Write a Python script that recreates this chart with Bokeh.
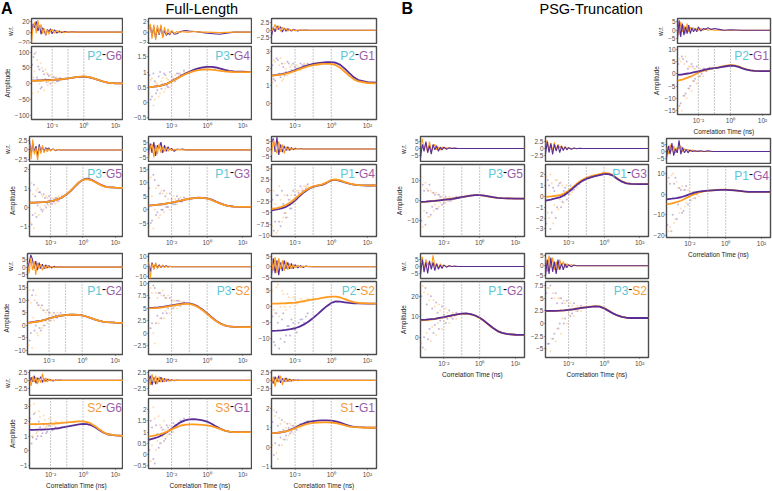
from bokeh.plotting import figure
from bokeh.layouts import column, row
from bokeh.models import (FixedTicker, CustomJSTickFormatter, Span, Label, Range1d, Spacer)
from bokeh.embed import file_html
from bokeh.resources import INLINE

FONT = "Liberation Sans"
PURPLE = "#5a2d96"
ORANGE = "#ff9b1e"
CYAN_T = "#5cc8d6"
PURP_T = "#9c5ca8"
ORNG_T = "#f29a3a"

# correlation times (ms)
CURVE_T = [0.0005, 0.001, 0.00178, 0.00316, 0.00562, 0.01, 0.0178, 0.0316, 0.0562, 0.1, 0.178,
           0.316, 0.562, 1.0, 1.78, 3.16, 5.62, 10.0, 17.8, 31.6, 100.0, 316.0]
RES_T = [0.0005, 0.00063, 0.00079, 0.001, 0.00126, 0.00158, 0.002, 0.00251, 0.00316, 0.00398,
         0.00501, 0.00631, 0.00794, 0.01, 0.0141, 0.02, 0.0282, 0.0398, 0.0631, 0.1, 0.2, 0.398,
         1.0, 5.0, 31.6, 316.0]
SCAT_T = [0.00056, 0.00079, 0.00112, 0.00158, 0.00224, 0.00316, 0.00447, 0.00631, 0.01, 0.0158,
          0.0251, 0.0398]
SCAT_T2 = [0.00067, 0.00094, 0.00133, 0.00188, 0.00266, 0.00376, 0.00531, 0.00794, 0.0126, 0.02,
           0.0316, 0.0501]
X_TICKS = [0.01, 1, 100]
V_LINES = [0.01, 0.1, 1]

# ---------------- Full-Length ----------------
A1_FIT_P = [10, 10.5, 11, 11.5, 12, 12.5, 13, 14, 15.5, 17, 19, 21, 22, 22.5, 21.5, 19, 15, 10.5, 6.5, 3.5, 1.5, 1]
A1_FIT_O = [9, 9.5, 10, 10.5, 11, 12, 13, 14, 15.5, 17, 19, 21, 22.5, 23, 22, 19.5, 15, 10.5, 6.5, 3.5, 1.5, 1]
A1_RES_P = [-5, 15, 8, 20, 2, 12, -4, 8, 3, -6, 5, 0, 6, -3, 4, -2, 2, -1, 1, 0, 0.5, 0, 0, 0, 0, 0]
A1_RES_O = [-20, 10, 18, -2, 22, 6, 14, -3, 7, -5, 4, -4, 3, 5, -2, 3, -1, 1, -1, 0.5, 0, 0, 0, 0, 0, 0]
A1_PTS_P = [60, 95, 20, 45, -10, 30, 5, 25, 10, 18, 8, 14]
A1_PTS_O = [-30, 40, 75, 0, 50, -20, 35, 5, 20, 2, 16, 12]
A1_PTS2_P = [85, 10, 55, -15, 40, 15, 30, 0, 22, 8, 18, 15]
A1_PTS2_O = [20, 100, -25, 65, 10, 45, -5, 28, 5, 20, 12, 16]

A2_FIT_P = [0.50, 0.52, 0.54, 0.57, 0.62, 0.70, 0.78, 0.86, 0.94, 1.01, 1.07, 1.12, 1.15, 1.17, 1.17, 1.15, 1.11, 1.07, 1.04, 1.02, 1.01, 1.0]
A2_FIT_O = [0.50, 0.52, 0.54, 0.57, 0.62, 0.69, 0.77, 0.85, 0.92, 0.98, 1.03, 1.06, 1.08, 1.09, 1.08, 1.06, 1.04, 1.02, 1.01, 1.0, 1.0, 1.0]
A2_RES_P = [0.5, 1.2, -0.8, 1.0, -1.2, 0.8, -0.5, 1.1, -0.9, 0.3, -0.6, -0.2, -0.5, 0.2, -0.4, -0.3, 0, 0.2, 0.3, 0.2, 0.1, 0.0, -0.2, -0.4, 0.0, 0.0]
A2_RES_O = [0.2, 1.5, -1.2, 1.4, -1.5, 1.3, -0.4, 1.4, -1.1, 0.9, -0.5, 0.6, -0.4, 0.3, -0.2, 0.1, -0.1, 0.1, 0.0, 0.0, 0.1, 0.0, 0.0, -0.1, 0.0, 0.0]
A2_PTS_P = [0.9, 0.2, 0.7, 0.4, 1.0, 0.6, 0.9, 0.5, 0.85, 0.7, 0.95, 0.9]
A2_PTS_O = [0.3, 0.8, 0.1, 0.6, 0.3, 0.8, 0.45, 0.75, 0.6, 0.9, 0.8, 0.88]
A2_PTS2_P = [0.1, 0.95, 0.3, 0.85, 0.45, 0.95, 0.55, 1.0, 0.75, 0.95, 0.9, 1.05]
A2_PTS2_O = [0.75, -0.1, 0.65, 0.2, 0.7, 0.35, 0.8, 0.5, 0.8, 0.75, 0.95, 1.0]

A3_FIT_P = [1.60, 1.64, 1.68, 1.74, 1.82, 1.92, 2.02, 2.12, 2.2, 2.27, 2.32, 2.35, 2.37, 2.38, 2.34, 2.22, 2.0, 1.74, 1.5, 1.34, 1.22, 1.19]
A3_FIT_O = [1.60, 1.63, 1.66, 1.71, 1.78, 1.87, 1.97, 2.06, 2.14, 2.2, 2.24, 2.27, 2.28, 2.27, 2.2, 2.05, 1.82, 1.58, 1.38, 1.26, 1.17, 1.15]
A3_RES_P = [-2.0, 1.0, -0.5, 1.5, 0.3, 1.2, -0.6, 0.8, -0.3, 0.5, 0.2, -0.3, 0.3, 0.1, -0.2, 0.1, 0, 0.1, 0, 0, 0, 0, 0, 0, 0, 0]
A3_RES_O = [-0.5, 0.8, 2.0, 0.2, 1.5, -0.4, 1.0, 0.3, 0.6, -0.3, 0.4, 0, 0.2, -0.2, 0.1, 0, 0.1, 0, 0, 0, 0, 0, 0, 0, 0, 0]
A3_PTS_P = [2.2, 1.3, 2.5, 1.5, 2.1, 1.8, 2.3, 1.9, 2.1, 2.0, 2.2, 2.15]
A3_PTS_O = [1.2, 2.4, 1.6, 2.6, 1.4, 2.0, 1.7, 2.2, 1.85, 2.1, 2.05, 2.2]
A3_PTS2_P = [1.4, 2.6, 1.7, 2.3, 1.6, 2.4, 1.8, 2.3, 2.0, 2.3, 2.2, 2.3]
A3_PTS2_O = [2.5, 1.0, 2.2, 1.3, 2.3, 1.6, 2.1, 1.8, 2.2, 1.9, 2.3, 2.25]

A4_FIT_P = [0.25, 0.26, 0.27, 0.28, 0.3, 0.33, 0.38, 0.45, 0.55, 0.7, 0.88, 1.1, 1.32, 1.47, 1.52, 1.47, 1.36, 1.24, 1.14, 1.08, 1.05, 1.03]
A4_FIT_O = [0.25, 0.26, 0.27, 0.28, 0.3, 0.33, 0.38, 0.46, 0.56, 0.71, 0.9, 1.12, 1.33, 1.46, 1.5, 1.45, 1.34, 1.22, 1.13, 1.08, 1.05, 1.03]
A4_RES_P = [2.5, -1.5, 1.8, -0.5, 1.0, -1.8, 1.5, -0.6, 0.8, -0.4, 0.6, 0.2, 0.5, -0.2, 0.3, -0.2, 0.1, 0, 0, 0, 0, 0, 0, 0, 0, 0]
A4_RES_O = [1.5, -2.5, 2.8, -1.2, 0.5, -2.8, 0.9, -1.0, 1.2, -0.8, 0.4, -0.5, 0.3, -0.3, 0.2, -0.1, 0.1, 0, 0, 0, 0, 0, 0, 0, 0, 0]
A4_PTS_P = [0.9, -0.4, 0.6, 0.1, 0.8, -0.2, 0.5, 0.2, 0.4, 0.3, 0.5, 0.5]
A4_PTS_O = [-0.8, 0.7, -0.3, 1.0, 0.0, 0.6, 0.1, 0.5, 0.2, 0.45, 0.3, 0.5]
A4_PTS2_P = [-0.9, 1.2, -0.5, 0.8, -0.1, 0.7, 0.0, 0.6, 0.2, 0.5, 0.35, 0.6]
A4_PTS2_O = [1.3, -1.1, 0.9, -0.4, 0.7, -0.1, 0.6, 0.1, 0.5, 0.2, 0.6, 0.55]

A5_FIT_P = [1.5, 1.7, 1.85, 2.0, 2.3, 2.6, 2.95, 3.3, 3.7, 4.0, 4.3, 4.45, 4.4, 4.2, 3.7, 3.0, 2.3, 1.7, 1.35, 1.15, 1.02, 1.0]
A5_FIT_O = [1.5, 1.7, 1.85, 2.05, 2.35, 2.65, 3.0, 3.35, 3.75, 4.05, 4.3, 4.4, 4.35, 4.1, 3.6, 2.9, 2.2, 1.65, 1.3, 1.12, 1.02, 1.0]
A5_RES_P = [-3, 4, -2, 5, -4, 3, 1, 5, -2, 3, -1, 2, 0, 1, -1, 0.5, 0, 0.5, 0, 0, 0, 0, 0, 0, 0, 0]
A5_RES_O = [-6, 2, 4, -5, 3, -3, 4, -2, 2, -1, 1.5, -1, 1, -0.5, 0.3, 0, 0.3, 0, 0, 0, 0, 0, 0, 0, 0, 0]
A5_PTS_P = [8, -4, 11, -1, 6, 0, 5, 1, 4, 2, 4, 3]
A5_PTS_O = [-6, 5, 0, 9, -2, 6, 1, 4, 3, 4, 3.5, 3.5]
A5_PTS2_P = [-5, 13, -2, 9, 0, 7, 1, 6, 2, 5, 3, 4.5]
A5_PTS2_O = [12, -7, 8, -3, 7, -1, 6, 0, 5, 2, 4.5, 3.5]

A6_FIT_P = [-4.4, -4.2, -3.95, -3.6, -3.0, -2.2, -1.2, -0.3, 0.4, 0.9, 1.15, 1.35, 1.8, 2.35, 2.45, 2.25, 1.9, 1.6, 1.4, 1.28, 1.2, 1.2]
A6_FIT_O = [-4.1, -3.9, -3.6, -3.2, -2.6, -1.8, -0.9, -0.1, 0.55, 1.0, 1.25, 1.45, 1.9, 2.45, 2.55, 2.35, 1.95, 1.65, 1.42, 1.3, 1.22, 1.2]
A6_RES_P = [4, 7, -2, 8, -4, 3, -2, 2, -1, 1.5, -1, 1, -0.5, 0.5, 0, 0.3, 0, 0, 0, 0, 0, 0, 0, 0, 0, 0]
A6_RES_O = [-4, 6, 2, -3, 5, -2, 3, -3, 1.5, -1, 1, -0.5, 0.5, -0.3, 0.3, 0, 0, 0, 0, 0, 0, 0, 0, 0, 0, 0]
A6_PTS_P = [-2, -7, -1, -8, -3, -6, -2, -4, -1, -0.5, 0, 0.5]
A6_PTS_O = [-8, -3, -9, -2, -6, -5, -3, -1, -2, 0, 0.5, 1]
A6_PTS2_P = [-9, -1, -7, 0, -5, -1, -4, 0, -1.5, 1, 0, 1.5]
A6_PTS2_O = [0, -9.5, 1, -7, -1, -6, -2, -3, 0, -1, 1, 1]

A7_FIT_P = [1.0, 1.3, 1.55, 1.8, 2.25, 2.8, 3.25, 3.6, 3.9, 4.1, 4.25, 4.3, 4.2, 4.0, 3.55, 3.0, 2.4, 1.9, 1.5, 1.3, 1.1, 1.0]
A7_FIT_O = [0.9, 1.2, 1.45, 1.75, 2.2, 2.75, 3.2, 3.6, 3.9, 4.1, 4.25, 4.3, 4.2, 4.0, 3.55, 3.0, 2.4, 1.9, 1.5, 1.3, 1.1, 1.0]
A7_RES_P = [-2, 3, 8, 5, -1, 4, -2, 3, -1, 2, -1, 1.5, -0.5, 1, -0.5, 0.5, 0, 0.3, 0, 0, 0, 0, 0, 0, 0, 0]
A7_RES_O = [2, -4, 6, -2, 4, -5, 3, -1, 2, -2, 1, -1, 1, -0.5, 0.5, -0.3, 0.3, 0, 0, 0, 0, 0, 0, 0, 0, 0]
A7_PTS_P = [10, -3, 14, 0, 8, -2, 6, 2, 5, 3, 4, 4]
A7_PTS_O = [-8, 9, 3, 12, -4, 7, 0, 5, 2, 4, 3.5, 4]
A7_PTS2_P = [-6, 12, -2, 9, -1, 8, 0, 6, 2, 5, 3, 5]
A7_PTS2_O = [14, -9, 10, -3, 8, -1, 6, 1, 5, 2, 5, 4]

A8_FIT_P = [5.05, 5.1, 5.15, 5.25, 5.4, 5.55, 5.7, 5.85, 5.95, 5.95, 5.7, 5.3, 4.7, 4.0, 3.2, 2.5, 1.95, 1.6, 1.4, 1.3, 1.25, 1.25]
A8_FIT_O = [4.95, 5.0, 5.05, 5.15, 5.3, 5.45, 5.6, 5.75, 5.85, 5.85, 5.6, 5.2, 4.6, 3.9, 3.1, 2.45, 1.9, 1.58, 1.4, 1.3, 1.25, 1.25]
A8_RES_P = [3, -5, 4, -2, 3, -1, 2, -1, 1, 0, 1, 0, 0.5, 0, 0, 0, 0, 0, 0, 0, 0, 0, 0, 0, 0, 0]
A8_RES_O = [5, -12, 3, -3, 4, -2, 1, -1, 2, -1, 0.5, -0.5, 0.3, 0, 0, 0, 0, 0, 0, 0, 0, 0, 0, 0, 0, 0]
A8_PTS_P = [7, 2, 9, 3.5, 8, 4, 7, 5, 6.5, 5.5, 6.5, 6]
A8_PTS_O = [1, 8, -2, 7, 3, 8.5, 4.5, 7.5, 5, 6.5, 5.5, 6]
A8_PTS2_P = [1, 9.5, 2, 8, 3, 7.5, 4, 7, 5, 6.5, 5.5, 6.2]
A8_PTS2_O = [9, 0, 8, 2, 7.5, 3, 7, 4, 6.5, 5, 6.3, 5.8]

A9_FIT_P = [-7.5, -7.45, -7.35, -7.2, -7.0, -6.7, -6.2, -5.5, -4.6, -3.5, -2.3, -1.0, 0.2, 1.2, 1.7, 1.6, 1.4, 1.2, 1.1, 1.05, 1.0, 1.0]
A9_FIT_O = [1.0, 1.0, 1.05, 1.1, 1.2, 1.3, 1.5, 1.8, 2.1, 2.3, 2.5, 2.8, 3.05, 3.2, 3.15, 2.9, 2.4, 1.85, 1.45, 1.2, 1.05, 1.0]
A9_RES_P = [-4, 4, -3, 3, -4, 2, -2, 3, -1, 2, -1, 1.5, -1, 1, -0.5, 0.5, -0.3, 0.3, 0, 0, 0, 0, 0, 0, 0, 0]
A9_RES_O = [3, -2, 4.5, -3, 4, -1, 3, -2, 2.5, -1.5, 1.5, -1, 1, -0.5, 0.7, -0.3, 0.3, 0, 0.2, 0, 0, 0, 0, 0, 0, 0]
A9_PTS_P = [-3, -12, -5, -10, -2, -9, -6, -4, -7, -5, -4, -3]
A9_PTS_O = [5, -2, 7, 0, 4, -1, 3, 1, 2.5, 1.5, 2, 2]
A9_PTS2_P = [-11, -2, -13, -4, -11, -6, -9, -5, -8, -4, -5, -2]
A9_PTS2_O = [-1, 6, -3, 5, 0, 4, 0, 3, 1, 2.5, 1.5, 2.5]

A10_FIT_P = [1.42, 1.43, 1.44, 1.45, 1.46, 1.48, 1.51, 1.55, 1.6, 1.65, 1.7, 1.75, 1.8, 1.83, 1.82, 1.75, 1.6, 1.42, 1.25, 1.13, 1.05, 1.02]
A10_FIT_O = [1.82, 1.82, 1.82, 1.83, 1.84, 1.85, 1.86, 1.88, 1.9, 1.93, 1.96, 1.98, 2.0, 2.0, 1.96, 1.85, 1.68, 1.47, 1.28, 1.14, 1.05, 1.02]
A10_RES_P = [-1.5, 1.0, -0.5, 1.5, -1.0, 0.8, 0.3, 1.2, -0.6, 0.5, -0.3, 0.4, 0, 0.2, -0.2, 0.1, 0, 0.1, 0, 0, 0, 0, 0, 0, 0, 0]
A10_RES_O = [0.5, -1.8, 1.2, -0.5, 1.0, -1.2, 0.6, -0.8, 2.2, -0.5, 0.8, -0.5, 0.5, -0.2, 0.2, -0.1, 0.1, 0, 0, 0, 0, 0, 0, 0, 0, 0]
A10_PTS_P = [2.2, 0.9, 1.8, 1.0, 1.6, 1.2, 1.5, 1.3, 1.5, 1.45, 1.5, 1.55]
A10_PTS_O = [3.1, 1.0, 2.6, 1.3, 2.3, 1.5, 2.1, 1.7, 1.95, 1.8, 1.9, 1.9]
A10_PTS2_P = [0.5, 2.5, 0.8, 2.0, 1.0, 1.8, 1.2, 1.7, 1.4, 1.6, 1.5, 1.6]
A10_PTS2_O = [1.0, 3.2, 1.2, 2.7, 1.4, 2.4, 1.6, 2.2, 1.7, 2.0, 1.85, 2.0]

A11_FIT_P = [0.65, 0.72, 0.78, 0.88, 1.0, 1.15, 1.3, 1.43, 1.52, 1.56, 1.57, 1.55, 1.52, 1.46, 1.37, 1.25, 1.14, 1.06, 1.02, 1.0, 1.0, 1.0]
A11_FIT_O = [0.8, 0.84, 0.88, 0.94, 1.02, 1.12, 1.21, 1.28, 1.32, 1.34, 1.34, 1.33, 1.32, 1.3, 1.26, 1.2, 1.13, 1.06, 1.02, 1.0, 1.0, 1.0]
A11_RES_P = [-0.5, 1.5, -1.5, 1.0, -1.2, 0.8, -0.5, 1.0, -0.5, 0.6, -0.3, 0.4, -0.2, 0.2, -0.1, 0.1, 0, 0, 0, 0, 0, 0, 0, 0, 0, 0]
A11_RES_O = [1.0, -1.5, 2.0, -0.8, 1.5, -1.2, 1.2, -0.6, 0.8, -0.5, 0.5, -0.3, 0.2, -0.1, 0.1, 0, 0, 0, 0, 0, 0, 0, 0, 0, 0, 0]
A11_PTS_P = [0.2, 1.2, -0.4, 0.9, 0.5, 1.1, 0.7, 1.2, 1.0, 1.3, 1.4, 1.5]
A11_PTS_O = [1.9, 0.4, 1.6, 0.6, 1.3, 0.8, 1.1, 0.9, 1.1, 1.2, 1.25, 1.3]
A11_PTS2_P = [1.5, -0.2, 1.3, 0.3, 1.2, 0.6, 1.3, 0.9, 1.4, 1.2, 1.5, 1.6]
A11_PTS2_O = [-0.3, 2.1, 0.2, 1.7, 0.5, 1.5, 0.8, 1.3, 1.0, 1.3, 1.3, 1.35]

A12_FIT_P = [0.72, 0.74, 0.77, 0.82, 0.9, 1.0, 1.12, 1.22, 1.3, 1.34, 1.37, 1.38, 1.38, 1.37, 1.33, 1.26, 1.18, 1.1, 1.05, 1.03, 1.01, 1.0]
A12_FIT_O = [0.72, 0.74, 0.77, 0.81, 0.88, 0.97, 1.07, 1.15, 1.21, 1.25, 1.27, 1.28, 1.28, 1.27, 1.24, 1.18, 1.12, 1.06, 1.03, 1.02, 1.0, 1.0]
A12_RES_P = [0.5, -1.0, 1.2, -0.5, 1.5, -0.8, 0.6, -0.4, 0.8, -0.3, 0.4, -0.2, 0.2, 0, 0.1, 0, 0, 0, 0, 0, 0, 0, 0, 0, 0, 0]
A12_RES_O = [-1.0, 1.2, -2.0, 1.0, -0.6, 1.5, -1.5, 0.8, -0.5, 0.6, -0.4, 0.3, -0.2, 0.1, -0.1, 0, 0, 0, 0, 0, 0, 0, 0, 0, 0, 0]
A12_PTS_P = [1.3, 0.2, 1.1, 0.5, 0.9, 0.6, 1.0, 0.8, 1.0, 1.1, 1.2, 1.3]
A12_PTS_O = [0.1, 1.6, -0.6, 1.2, 0.4, 1.0, 0.6, 1.1, 0.9, 1.1, 1.15, 1.2]
A12_PTS2_P = [-0.4, 1.8, 0.1, 1.4, 0.4, 1.2, 0.7, 1.1, 0.9, 1.2, 1.25, 1.35]
A12_PTS2_O = [1.9, -0.3, 1.5, 0.1, 1.3, 0.4, 1.2, 0.7, 1.1, 1.0, 1.2, 1.3]

# ---------------- PSG-Truncation ----------------
B1_FIT_P = [-0.5, -0.4, -0.2, 0.0, 0.25, 0.5, 0.75, 1.0, 1.4, 1.8, 2.2, 2.6, 2.8, 2.8, 2.6, 2.2, 1.8, 1.5, 1.3, 1.2, 1.1, 1.1]
B1_FIT_O = [-0.6, -0.45, -0.25, 0.0, 0.25, 0.55, 0.8, 1.05, 1.45, 1.85, 2.25, 2.6, 2.8, 2.8, 2.55, 2.15, 1.75, 1.5, 1.3, 1.2, 1.1, 1.1]
B1_RES_P = [-7, 3, -2, 5, -3, 2, -4, 3, -1, 2, -2, 1, -1, 1, -0.5, 0.5, 0, 0.3, 0, 0, 0, 0, 0, 0, 0, 0]
B1_RES_O = [2, 7, -1, 4, -3, 5, -2, 1, 3, -1, 1, -1, 1, 0, 0.5, 0, 0.3, 0, 0, 0, 0, 0, 0, 0, 0, 0]
B1_PTS_P = [-10, 5, -6, 8, -3, 3, -4, 2, -1, 1, 0, 1]
B1_PTS_O = [12, -5, 6, -8, 4, -2, 3, -1, 1, 0, 1.5, 1]
B1_PTS2_P = [8, -12, 5, -7, 4, -4, 3, -2, 2, 0, 1.5, 2]
B1_PTS2_O = [-13, 9, -8, 5, -5, 4, -3, 2, -1, 2, 0.5, 1.5]

B2_FIT_P = [-0.4, -0.3, -0.2, -0.1, 0.1, 0.4, 0.75, 1.1, 1.4, 1.6, 1.75, 1.85, 1.95, 2.05, 2.05, 1.9, 1.6, 1.35, 1.2, 1.15, 1.12, 1.12]
B2_FIT_O = [-0.05, 0.0, 0.05, 0.1, 0.25, 0.5, 0.85, 1.2, 1.5, 1.7, 1.85, 1.95, 2.05, 2.15, 2.12, 1.95, 1.65, 1.38, 1.22, 1.15, 1.12, 1.12]
B2_RES_P = [-2, 2.5, -1.5, 1.8, -2.2, 1.5, -1.0, 1.2, -1.5, 0.8, -0.8, 0.6, -0.5, 0.3, -0.3, 0.2, -0.1, 0.1, 0, 0, 0, 0, 0, 0, 0, 0]
B2_RES_O = [1.5, 3.0, -0.5, 2.0, -1.0, 2.2, -0.5, 1.5, 0.3, 1.0, -0.2, 0.5, 0, 0.3, -0.1, 0.1, 0, 0, 0, 0, 0, 0, 0, 0, 0, 0]
B2_PTS_P = [-2.5, 1.0, -1.5, 0.5, -1.0, 1.2, -0.5, 0.8, 0.2, 0.6, 0.9, 1.1]
B2_PTS_O = [1.8, -2.0, 1.2, -0.8, 1.5, -0.3, 1.0, 0.0, 0.7, 0.4, 1.0, 1.2]
B2_PTS2_P = [1.5, -3.0, 0.8, -2.0, 1.0, -1.0, 0.5, -0.3, 1.0, 0.6, 1.2, 1.4]
B2_PTS2_O = [-1.5, 2.0, -2.5, 1.5, -1.2, 1.3, -0.6, 1.0, 0.2, 0.9, 0.8, 1.3]

B3_FIT_P = [-0.5, -0.3, 0.0, 0.3, 0.65, 1.0, 1.4, 1.8, 2.1, 2.3, 2.5, 2.8, 3.05, 3.3, 3.2, 2.8, 2.2, 1.7, 1.35, 1.2, 1.1, 1.1]
B3_FIT_O = [-2.8, -2.4, -1.8, -1.2, -0.4, 0.5, 1.1, 1.6, 2.0, 2.3, 2.6, 3.0, 3.35, 3.6, 3.45, 3.0, 2.35, 1.8, 1.4, 1.2, 1.1, 1.1]
B3_RES_P = [-5, 6, -4, 4, -3, 2, -2, 3, -2, 1.5, -1, 1, -1, 2, -0.5, 1, 0.5, 1.5, 0.5, 1, 0.5, 0, 0.3, 0, 0, 0]
B3_RES_O = [2, -3, 5, -1, 3, -2, 4, -1, 2, 0, 1.5, 0, 1, 0, 1, 0, 1, 0, 0.5, 0, 0, 0, 0, 0, 0, 0]
B3_PTS_P = [4, -12, 6, -8, 2, -5, 3, -2, 1, 0, 2, 2]
B3_PTS_O = [-14, 5, -9, 7, -6, 3, -3, 2, -1, 1, 1.5, 2]
B3_PTS2_P = [-13, 7, -9, 5, -6, 4, -3, 3, -1, 2, 1, 2.5]
B3_PTS2_O = [6, -15, 4, -10, 3, -7, 2, -4, 2, -1, 1, 2]

B4_FIT_P = [-2.5, -2.2, -1.9, -1.5, -0.8, 0.0, 0.7, 1.2, 1.5, 1.7, 1.85, 2.0, 2.05, 2.1, 2.0, 1.8, 1.55, 1.3, 1.15, 1.1, 1.1, 1.1]
B4_FIT_O = [-5.0, -4.5, -3.9, -3.2, -2.1, -1.0, 0.0, 0.8, 1.3, 1.6, 1.85, 2.1, 2.15, 2.2, 2.05, 1.8, 1.55, 1.3, 1.15, 1.1, 1.1, 1.1]
B4_RES_P = [-5, 4, -2, 6, -3, 2, -1, 8, -2, 3, -1, 1.5, -1, 1, 0, 0.5, 0, 0.5, 0, 0.5, 0, 0, 0, 0, 0, 0]
B4_RES_O = [3, -2, 5, 0, 4, -1, 3, 2, 4, 0, 2, 1, 1.5, 0, 1, 0, 0.5, 0, 0, 0, 0, 0, 0, 0, 0, 0]
B4_PTS_P = [-15, 5, -10, 8, -5, 2, -8, 4, -3, 1, 0, 1]
B4_PTS_O = [6, -16, 10, -12, 3, -7, 2, -4, 1, -2, 0.5, 1]
B4_PTS2_P = [8, -18, 5, -12, 3, -9, 2, -5, 0, -2, 1, 1.5]
B4_PTS2_O = [-18, 9, -14, 6, -9, 4, -6, 2, -3, 1, -1, 1]

B5_FIT_P = [8.5, 8.6, 8.8, 9.0, 9.4, 9.8, 10.3, 10.8, 11.2, 11.5, 11.6, 11.3, 10.6, 9.5, 8.0, 6.2, 4.5, 3.0, 2.1, 1.6, 1.2, 1.1]
B5_FIT_O = [8.2, 8.4, 8.6, 8.9, 9.3, 9.7, 10.2, 10.7, 11.1, 11.4, 11.5, 11.2, 10.5, 9.4, 7.9, 6.1, 4.4, 3.0, 2.1, 1.6, 1.2, 1.1]
B5_RES_P = [-6, 5, -4, 3, -5, 4, -2, 3, -3, 2, -2, 1, -1.5, 1, -0.5, 0.5, 0, 0.3, 0, 0, 0, 0, 0, 0, 0, 0]
B5_RES_O = [3, 7, -2, 5, 1, 3, -1, 8, 0, 2, -1, 2, 0, 1, 0, 0.5, 0, 0, 0, 0, 0, 0, 0, 0, 0, 0]
B5_PTS_P = [20, 0, 16, 4, 14, 6, 12, 8, 11, 9, 10, 10.5]
B5_PTS_O = [-3, 22, 2, 18, 5, 15, 7, 13, 8, 12, 10, 11]
B5_PTS2_P = [-5, 24, -1, 20, 2, 17, 4, 15, 7, 13, 9, 12]
B5_PTS2_O = [25, -6, 21, -2, 18, 1, 16, 4, 14, 7, 12, 9]

B6_FIT_P = [2.5, 2.5, 2.52, 2.55, 2.6, 2.7, 2.8, 2.95, 3.1, 3.2, 3.3, 3.4, 3.35, 3.0, 2.5, 2.0, 1.6, 1.3, 1.15, 1.1, 1.1, 1.1]
B6_FIT_O = [2.45, 2.47, 2.5, 2.55, 2.6, 2.7, 2.82, 2.97, 3.12, 3.25, 3.35, 3.45, 3.4, 3.05, 2.55, 2.02, 1.6, 1.3, 1.15, 1.1, 1.1, 1.1]
B6_RES_P = [-5, 3, -4, 4, -3, 2, -4, 3, -2, 1, -2, 1, -1, 0.5, -0.5, 0.3, 0, 0, 0, 0, 0, 0, 0, 0, 0, 0]
B6_RES_O = [4, -3, 5, -1, 4, -2, 2, -2, 3, 0, 2, -1, 1, 0, 0.5, 0, 0, 0, 0, 0, 0, 0, 0, 0, 0, 0]
B6_PTS_P = [6, -4, 5, -2, 4, 0, 4, 1, 3.5, 2, 3, 3]
B6_PTS_O = [-5, 7, -3, 5, -1, 5, 1, 4, 2, 3.5, 2.5, 3]
B6_PTS2_P = [-4, 7.5, -3, 6, -1, 5, 0, 4.5, 1.5, 4, 2.5, 3.5]
B6_PTS2_O = [7, -5.5, 6, -3.5, 5, -2, 4.5, 0, 4, 1.5, 3.5, 2.5]

# panel: (label parts, residual y-range, residual ticks, main y-range, main ticks, data)
C, Pu, O = CYAN_T, PURP_T, ORNG_T
PANELS = {
    "A1": ([("P2", C), ("-", "black"), ("G6", Pu)], (-21, 25), [20, 0, -20], (-113, 118), [100, 50, 0, -50, -100],
           (A1_FIT_P, A1_FIT_O, A1_RES_P, A1_RES_O, A1_PTS_P, A1_PTS_O, A1_PTS2_P, A1_PTS2_O)),
    "A2": ([("P3", C), ("-", "black"), ("G4", Pu)], (-2.1, 2.5), [2, 0, -2], (-0.56, 1.84), [1.5, 1.0, 0.5, 0.0, -0.5],
           (A2_FIT_P, A2_FIT_O, A2_RES_P, A2_RES_O, A2_PTS_P, A2_PTS_O, A2_PTS2_P, A2_PTS2_O)),
    "A3": ([("P2", C), ("-", "black"), ("G1", Pu)], (-4.5, 4.0), [2.5, 0.0, -2.5], (-0.94, 3.28), [3, 2, 1, 0],
           (A3_FIT_P, A3_FIT_O, A3_RES_P, A3_RES_O, A3_PTS_P, A3_PTS_O, A3_PTS2_P, A3_PTS2_O)),
    "A4": ([("P3", C), ("-", "black"), ("G5", Pu)], (-3.1, 3.6), [2.5, 0.0, -2.5], (-1.53, 2.27), [2, 1, 0, -1],
           (A4_FIT_P, A4_FIT_O, A4_RES_P, A4_RES_O, A4_PTS_P, A4_PTS_O, A4_PTS2_P, A4_PTS2_O)),
    "A5": ([("P1", C), ("-", "black"), ("G3", Pu)], (-7.6, 8.7), [5, 0, -5], (-10, 16.8), [15, 10, 5, 0, -5],
           (A5_FIT_P, A5_FIT_O, A5_RES_P, A5_RES_O, A5_PTS_P, A5_PTS_O, A5_PTS2_P, A5_PTS2_O)),
    "A6": ([("P1", C), ("-", "black"), ("G4", Pu)], (-8.3, 8.3), [5, 0, -5], (-10.3, 5.93), [5.0, 2.5, 0.0, -2.5, -5.0, -7.5, -10.0],
           (A6_FIT_P, A6_FIT_O, A6_RES_P, A6_RES_O, A6_PTS_P, A6_PTS_O, A6_PTS2_P, A6_PTS2_O)),
    "A7": ([("P1", C), ("-", "black"), ("G2", Pu)], (-7.4, 8.9), [5, 0, -5], (-11.6, 17.5), [15, 10, 5, 0, -5, -10],
           (A7_FIT_P, A7_FIT_O, A7_RES_P, A7_RES_O, A7_PTS_P, A7_PTS_O, A7_PTS2_P, A7_PTS2_O)),
    "A8": ([("P3", C), ("-", "black"), ("S2", O)], (-11.8, 13.2), [10, 0, -10], (-4.2, 10.3), [10.0, 7.5, 5.0, 2.5, 0.0, -2.5],
           (A8_FIT_P, A8_FIT_O, A8_RES_P, A8_RES_O, A8_PTS_P, A8_PTS_O, A8_PTS2_P, A8_PTS2_O)),
    "A9": ([("P2", C), ("-", "black"), ("S2", O)], (-5.5, 6.2), [5, 0, -5], (-14.9, 7.9), [5, 0, -5, -10],
           (A9_FIT_P, A9_FIT_O, A9_RES_P, A9_RES_O, A9_PTS_P, A9_PTS_O, A9_PTS2_P, A9_PTS2_O)),
    "A10": ([("S2", O), ("-", "black"), ("G6", Pu)], (-4.9, 3.2), [2.5, 0.0, -2.5], (-1.2, 3.56), [3, 2, 1, 0, -1],
            (A10_FIT_P, A10_FIT_O, A10_RES_P, A10_RES_O, A10_PTS_P, A10_PTS_O, A10_PTS2_P, A10_PTS2_O)),
    "A11": ([("S3", O), ("-", "black"), ("G1", Pu)], (-4.9, 3.2), [2.5, 0.0, -2.5], (-0.62, 2.49), [2.0, 1.5, 1.0, 0.5, 0.0, -0.5],
            (A11_FIT_P, A11_FIT_O, A11_RES_P, A11_RES_O, A11_PTS_P, A11_PTS_O, A11_PTS2_P, A11_PTS2_O)),
    "A12": ([("S1", O), ("-", "black"), ("G1", Pu)], (-4.9, 3.2), [2.5, 0.0, -2.5], (-1.09, 2.5), [2, 1, 0, -1],
            (A12_FIT_P, A12_FIT_O, A12_RES_P, A12_RES_O, A12_PTS_P, A12_PTS_O, A12_PTS2_P, A12_PTS2_O)),
    "B1": ([("P3", C), ("-", "black"), ("G5", Pu)], (-9.3, 8.6), [5, 0, -5], (-17.9, 18.2), [10, 0, -10],
           (B1_FIT_P, B1_FIT_O, B1_RES_P, B1_RES_O, B1_PTS_P, B1_PTS_O, B1_PTS2_P, B1_PTS2_O)),
    "B2": ([("P1", C), ("-", "black"), ("G3", Pu)], (-4.8, 4.4), [2.5, 0.0, -2.5], (-3.7, 2.93), [2, 1, 0, -1, -2, -3],
           (B2_FIT_P, B2_FIT_O, B2_RES_P, B2_RES_O, B2_PTS_P, B2_PTS_O, B2_PTS2_P, B2_PTS2_O)),
    "B3": ([("P2", C), ("-", "black"), ("G1", Pu)], (-8.0, 7.05), [5, 0, -5], (-16.6, 11.1), [10, 5, 0, -5, -10, -15],
           (B3_FIT_P, B3_FIT_O, B3_RES_P, B3_RES_O, B3_PTS_P, B3_PTS_O, B3_PTS2_P, B3_PTS2_O)),
    "B4": ([("P1", C), ("-", "black"), ("G4", Pu)], (-8.7, 9.4), [5, 0, -5], (-21, 13.4), [10, 0, -10, -20],
           (B4_FIT_P, B4_FIT_O, B4_RES_P, B4_RES_O, B4_PTS_P, B4_PTS_O, B4_PTS2_P, B4_PTS2_O)),
    "B5": ([("P1", C), ("-", "black"), ("G2", Pu)], (-8.6, 9.3), [5, 0, -5], (-9.9, 27.2), [20, 10, 0],
           (B5_FIT_P, B5_FIT_O, B5_RES_P, B5_RES_O, B5_PTS_P, B5_PTS_O, B5_PTS2_P, B5_PTS2_O)),
    "B6": ([("P3", C), ("-", "black"), ("S2", O)], (-6.3, 6.0), [5, 0, -5], (-6.7, 8.3), [7.5, 5.0, 2.5, 0.0, -2.5, -5.0],
           (B6_FIT_P, B6_FIT_O, B6_RES_P, B6_RES_O, B6_PTS_P, B6_PTS_O, B6_PTS2_P, B6_PTS2_O)),
}

# ---------------- layout geometry (pixels) ----------------
COL_X = [0, 123, 252, 380, 527, 650, 772]
COL_RES_L = [23.5, 147.5, 271, 420, 545, 666.5]
COL_MAIN_L = [23.5, 137, 271, 420, 545, 666.5]
COL_R = [126.5, 251, 376, 524.5, 648, 770.5]
RES_H, GAP, MAIN_H = 25.5, 2.5, 77
XMIN, XMAX = 0.0005, 316.0
TICK_FS = "6.5px"
HEAD_H = 17
def P(v): return int(round(v))

# each column: list of (cell_top, cell_bottom, residual_frame_top, panel, y titles, x title)
COLUMNS = [
    [(HEAD_H, 131, 17.5, "A1", True, False), (131, 248.5, 135.5, "A4", True, False),
     (248.5, 365.5, 253, "A7", True, False), (365.5, 491, 369.5, "A10", True, True)],
    [(HEAD_H, 131, 17.5, "A2", False, False), (131, 248.5, 135.5, "A5", False, False),
     (248.5, 365.5, 253, "A8", False, False), (365.5, 491, 369.5, "A11", False, True)],
    [(HEAD_H, 131, 17.5, "A3", False, False), (131, 248.5, 135.5, "A6", False, False),
     (248.5, 365.5, 253, "A9", False, False), (365.5, 491, 369.5, "A12", False, True)],
    [(HEAD_H, 131, None, None, False, False), (131, 248.5, 135.5, "B1", True, False),
     (248.5, 380, 253, "B5", True, True), (380, 491, None, None, False, False)],
    [(HEAD_H, 131, None, None, False, False), (131, 248.5, 135.5, "B2", False, False),
     (248.5, 380, 253, "B6", False, True), (380, 491, None, None, False, False)],
    [(HEAD_H, 137, 17.5, "B3", True, True), (137, 260, 137.5, "B4", False, True),
     (260, 491, None, None, False, False)],
]

X_FMT = CustomJSTickFormatter(code="""
const e = Math.round(Math.log10(tick));
const sup = {'-2': '\u207b\u00b2', '0': '\u2070', '2': '\u00b2'};
return '10' + (sup[String(e)] || String(e));
""")

CHAR_W = {"P": 0.667, "G": 0.778, "S": 0.667, "-": 0.333}


def style_axis(ax):
    ax.axis_line_color = None
    ax.major_tick_line_color = "#444444"
    ax.major_tick_out = 1
    ax.major_tick_in = 0
    ax.minor_tick_line_color = None
    ax.major_label_standoff = 1
    ax.major_label_text_font = FONT
    ax.major_label_text_font_size = TICK_FS
    ax.major_label_text_color = "#4d4d4d"
    ax.axis_label_text_font = FONT
    ax.axis_label_text_font_size = TICK_FS
    ax.axis_label_text_font_style = "normal"
    ax.axis_label_text_color = "#222222"
    ax.axis_label_standoff = 1


def base_fig(w, h, yr, borders, with_x):
    p = figure(width=w, height=h, x_axis_type="log", x_range=Range1d(XMIN, XMAX),
               y_range=Range1d(*yr), x_axis_location="below" if with_x else None,
               output_backend="svg", toolbar_location=None,
               min_border_left=borders[0], min_border_right=borders[1],
               min_border_top=borders[2], min_border_bottom=borders[3])
    p.outline_line_color = "#4d4d4d"
    p.outline_line_width = 1.4
    p.background_fill_color = "white"
    p.border_fill_color = "white"
    p.xgrid.visible = False
    p.ygrid.visible = False
    return p


def build_cell(ci, top, bottom, rtop, key, ytitles, xtitle):
    w = P(COL_X[ci + 1]) - P(COL_X[ci])
    if key is None:
        return Spacer(width=w, height=P(bottom) - P(top))
    labels, rlim, rticks, mlim, mticks, data = PANELS[key]
    fit_p, fit_o, res_p, res_o, pts_p, pts_o, pts2_p, pts2_o = data
    purple_last = key.startswith("B")
    split = rtop + RES_H + GAP / 2
    mtop = rtop + RES_H + GAP
    mbot = mtop + MAIN_H
    xl0 = P(COL_X[ci])
    xr = P(COL_X[ci + 1]) - P(COL_R[ci])

    # residual panel
    res = base_fig(w, P(split) - P(top), rlim,
                   (P(COL_RES_L[ci]) - xl0, xr, P(rtop) - P(top), P(split) - P(rtop + RES_H)), False)
    res.yaxis.ticker = FixedTicker(ticks=rticks)
    style_axis(res.yaxis[0])
    if ytitles:
        res.yaxis.axis_label = "w.r."
    order = [(res_o, ORANGE), (res_p, PURPLE)] if purple_last else [(res_p, PURPLE), (res_o, ORANGE)]
    for ys, col in order:
        res.line(RES_T, ys, line_color=col, line_width=1.1)

    # main panel
    main = base_fig(w, P(bottom) - P(split), mlim,
                    (P(COL_MAIN_L[ci]) - xl0, xr, P(mtop) - P(split), P(bottom) - P(mbot)), True)
    main.yaxis.ticker = FixedTicker(ticks=mticks)
    main.xaxis.ticker = FixedTicker(ticks=X_TICKS)
    main.xaxis.formatter = X_FMT
    style_axis(main.yaxis[0])
    style_axis(main.xaxis[0])
    if ytitles:
        main.yaxis.axis_label = "Amplitude"
    if xtitle:
        main.xaxis.axis_label = "Correlation Time (ns)"
    for loc in V_LINES:
        main.add_layout(Span(location=loc, dimension="height", line_color="#8c8c8c",
                             line_dash="1 2", line_width=1))
    for xs, ys, col in [(SCAT_T, pts_p, PURPLE), (SCAT_T, pts_o, ORANGE),
                        (SCAT_T2, pts2_p, PURPLE), (SCAT_T2, pts2_o, ORANGE)]:
        main.scatter(xs, ys, size=2, color=col, alpha=0.35, line_color=None)
    order = [(fit_o, ORANGE), (fit_p, PURPLE)] if purple_last else [(fit_p, PURPLE), (fit_o, ORANGE)]
    for ys, col in order:
        main.line(CURVE_T, ys, line_color=col, line_width=1.8)

    # colored label in the top-right corner
    fs = 12
    widths = [sum(CHAR_W.get(ch, 0.556) for ch in txt) * fs for txt, _ in labels]
    total = sum(widths)
    off = -(total + 1.5)
    for (txt, col), wd in zip(labels, widths):
        main.add_layout(Label(x=XMAX, y=mlim[1], x_offset=off, y_offset=-2, text=txt,
                              text_color=col, text_font=FONT, text_font_size=f"{fs}px",
                              text_align="left", text_baseline="top"))
        off += wd
    return column(res, main, spacing=0)


cols = []
for ci, cells in enumerate(COLUMNS):
    kids = [build_cell(ci, *c) for c in cells]
    cols.append(column(*kids, spacing=0))

# title strip (y measured upward from the strip's bottom edge)
head = figure(width=772, height=HEAD_H, x_range=Range1d(0, 772), y_range=Range1d(0, HEAD_H),
              x_axis_location=None, y_axis_location=None, output_backend="svg",
              toolbar_location=None, min_border=0)
head.outline_line_color = None
head.xgrid.visible = False
head.ygrid.visible = False
for x, y, txt, fs, bold in [(0.5, 9.5, "A", "16px", True), (165, 8.5, "Full-Length", "14.5px", False),
                            (401, 9.5, "B", "16px", True), (539, 8.5, "PSG-Truncation", "14.5px", False)]:
    head.add_layout(Label(x=x, y=y, text=txt, text_font=FONT, text_font_size=fs,
                          text_font_style="bold" if bold else "normal", text_color="black",
                          text_baseline="middle", text_align="left"))

layout = column(head, row(*cols, spacing=0), spacing=0)
open("out.html", "w").write(file_html(layout, INLINE))
